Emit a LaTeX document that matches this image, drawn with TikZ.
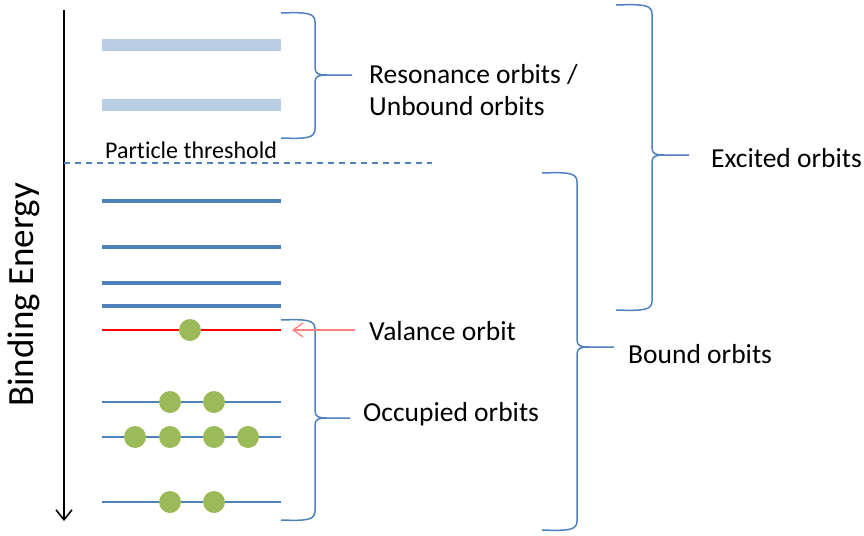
\documentclass[tikz,border=0pt]{standalone}
\usepackage{fontspec}
\setmainfont{Carlito}[Ligatures={NoCommon}]
\usetikzlibrary{arrows.meta}
\definecolor{obluemain}{RGB}{79,129,189}
\definecolor{olight}{RGB}{185,205,229}
\definecolor{ogreen}{RGB}{155,187,89}
\definecolor{ored}{RGB}{255,0,0}
\definecolor{opink}{RGB}{255,128,128}
\newcommand\obrace[6]{%
  \draw[bracestyle] (#1,#4) .. controls (#2-8,#4-1) and (#2,#4) .. (#2,#4+9)
    -- (#2,#5-7) .. controls (#2,#5-1) and (#2+4,#5) .. (#2+12,#5) -- (#3,#5);
  \draw[bracestyle] (#2+12,#5) .. controls (#2+4,#5) and (#2,#5+1) .. (#2,#5+7)
    -- (#2,#6-9) .. controls (#2,#6) and (#2-8,#6+1) .. (#1,#6);
}
\begin{document}
\begin{tikzpicture}[x=1pt,y=-1pt,
  bracestyle/.style={draw=obluemain,line width=1.5pt,line join=round},
  resbar/.style={draw=olight,line width=11.5pt},
  boundbar/.style={draw=obluemain,line width=4pt},
  occline/.style={draw=obluemain,line width=1.8pt},
  ball/.style={circle,fill=ogreen,minimum size=22pt,inner sep=0pt},
  lbl/.style={anchor=west,inner sep=0pt,font=\fontsize{27.5}{32}\selectfont},
]
\useasboundingbox (0,0) rectangle (864,535);
% axis
\coordinate (axtop) at (64,10);
\coordinate (axbot) at (64,521);
\draw[line width=1.5pt,-{Straight Barb[length=10pt,width=16pt,line width=1.5pt]}] (axtop) -- (axbot);
\node[rotate=90,inner sep=0pt,font=\fontsize{37}{42}\selectfont] (be) at (24,295) {Binding Energy};
% resonance bars
\draw[resbar] (102,45) -- (281,45);
\draw[resbar] (102,105) -- (281,105);
% threshold
\node[anchor=west,inner sep=0pt,font=\fontsize{24}{28}\selectfont] (pt) at (105,150) {Particle threshold};
\draw[obluemain,line width=1.3pt,dash pattern=on 6pt off 5pt] (64,163) -- (432,163);
% bound bars
\foreach \y in {201,247,283,306} {\draw[boundbar] (102,\y) -- (281,\y);}
% valence
\draw[ored,line width=1.6pt] (102,330) -- (281,330);
\node[ball] (v1) at (190,330) {};
% occupied
\foreach \y in {402,437,502} {\draw[occline] (102,\y) -- (281,\y);}
\node[ball] (a1) at (170,402) {};
\node[ball] (a2) at (214,402) {};
\node[ball] (b1) at (135,437) {};
\node[ball] (b2) at (170,437) {};
\node[ball] (b3) at (214,437) {};
\node[ball] (b4) at (248,437) {};
\node[ball] (c1) at (170,502) {};
\node[ball] (c2) at (214,502) {};
% braces
\obrace{281}{315}{352}{13}{75}{138}
\obrace{281}{315}{350}{320}{418}{520}
\obrace{616}{652}{689}{5}{155}{310}
\obrace{542}{577}{614}{173}{347}{530}
% labels
\node[lbl] (res) at (369,75) {Resonance orbits /};
\node[lbl] (unb) at (369,106) {Unbound orbits};
\node[lbl] (val) at (369,331) {Valance orbit};
\node[lbl] (occ) at (363,414) {Occupied orbits};
\node[lbl] (exc) at (711,158) {Excited orbits};
\node[lbl] (bnd) at (628,354) {Bound orbits};
% red arrow
\coordinate (vtip) at (292,330);
\draw[opink,line width=1.3pt,-{Straight Barb[length=10pt,width=14pt,line width=1.3pt]}] (val.west) ++(-14,-1) -- (vtip);
\end{tikzpicture}
\end{document}
